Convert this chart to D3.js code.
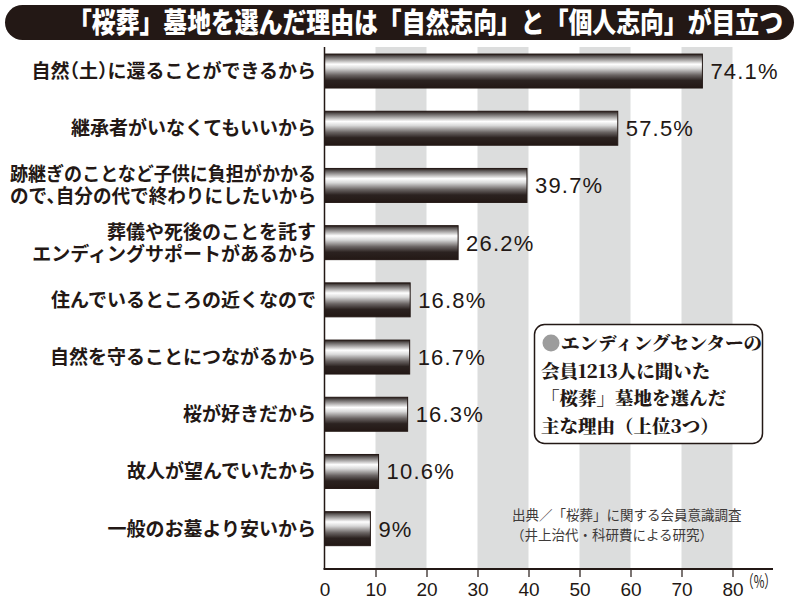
<!DOCTYPE html>
<html><head><meta charset="utf-8">
<script src="https://cdn.jsdelivr.net/npm/d3@7"></script>
<style>
html,body{margin:0;padding:0;background:#fff;}
svg{display:block;}
.halt{font-feature-settings:"halt";}
</style></head>
<body>
<svg id="c" width="800" height="607"></svg>
<script>
const titleText = "「桜葬」墓地を選んだ理由は「自然志向」と「個人志向」が目立つ";
const categories = [
  "自然（土）に還ることができるから",
  "継承者がいなくてもいいから",
  "跡継ぎのことなど子供に負担がかかる\nので、自分の代で終わりにしたいから",
  "葬儀や死後のことを託す\nエンディングサポートがあるから",
  "住んでいるところの近くなので",
  "自然を守ることにつながるから",
  "桜が好きだから",
  "故人が望んでいたから",
  "一般のお墓より安いから"
];
const values = [74.1, 57.5, 39.7, 26.2, 16.8, 16.7, 16.3, 10.6, 9];
const valueLabels = ["74.1%", "57.5%", "39.7%", "26.2%", "16.8%", "16.7%", "16.3%", "10.6%", "9%"];
const tickValues = [0, 10, 20, 30, 40, 50, 60, 70, 80];
const bandRanges = [[10, 20], [30, 40], [50, 60], [70, 80]];
const legendLines = ["エンディングセンターの", "会員1213人に聞いた", "「桜葬」墓地を選んだ", "主な理由（上位3つ）"];
const sourceLines = ["出典／「桜葬」に関する会員意識調査", "（井上治代・科研費による研究）"];

const INK = "#231815";
const svg = d3.select("#c");
const x = d3.scaleLinear().domain([0, 80]).range([324.5, 732.5]);
const y = d3.scaleBand().domain(categories).range([42.6, 557.1]).paddingInner(0.406).paddingOuter(0.2);
const axisY = 569;

// gradient
const defs = svg.append("defs");
const g = defs.append("linearGradient").attr("id", "barGrad").attr("x1", 0).attr("y1", 0).attr("x2", 0).attr("y2", 1);
[[0, "#231815"], [0.07, "#5d5857"], [0.3, "#ffffff"], [0.42, "#d9d9d9"], [0.62, "#6a6463"], [0.78, "#2b2220"], [1, "#231815"]]
  .forEach(([o, c]) => g.append("stop").attr("offset", o).attr("stop-color", c));

// title
svg.append("rect").attr("x", 5).attr("y", 5).attr("width", 789).attr("height", 35).attr("rx", 17.5).attr("fill", INK);
svg.append("text").attr("x", 68).attr("y", 32.5).attr("fill", "#fff")
  .attr("font-family", "'Noto Sans CJK JP', sans-serif").attr("font-weight", 900).attr("font-size", 28)
  .attr("textLength", 715).attr("lengthAdjust", "spacingAndGlyphs").text(titleText);

// grey bands
svg.append("g").selectAll("rect").data(bandRanges).join("rect")
  .attr("x", d => x(d[0])).attr("width", d => x(d[1]) - x(d[0]))
  .attr("y", 47).attr("height", axisY - 47).attr("fill", "#dcdddd");

// bars
svg.append("g").selectAll("rect").data(values).join("rect")
  .attr("x", x(0)).attr("y", (d, i) => y(categories[i]))
  .attr("width", d => x(d) - x(0)).attr("height", y.bandwidth())
  .attr("fill", "url(#barGrad)").attr("stroke", INK).attr("stroke-width", 1);

// value labels
svg.append("g").selectAll("text").data(values).join("text")
  .attr("x", d => x(d) + 8).attr("y", (d, i) => y(categories[i]) + y.bandwidth() / 2 + 8)
  .attr("font-family", "'Liberation Sans', Arial, sans-serif").attr("font-size", 22)
  .attr("letter-spacing", 1.2).attr("fill", INK)
  .text((d, i) => valueLabels[i]);

// category labels
const cl = svg.append("g").attr("class", "halt").attr("font-family", "'Noto Sans CJK JP', sans-serif")
  .attr("font-weight", 700).attr("font-size", 19).attr("fill", INK).attr("text-anchor", "end");
categories.forEach((c, i) => {
  const lines = c.split("\n");
  const cy = y(c) + y.bandwidth() / 2;
  const t = cl.append("text").attr("x", 316);
  lines.forEach((ln, j) => {
    const s = t.append("tspan").attr("x", 316)
      .attr("y", cy + 7 + (j - (lines.length - 1) / 2) * 22)
      .text(ln);
    const w = s.node().getComputedTextLength();
    if (w > 306) s.attr("textLength", 306).attr("lengthAdjust", "spacingAndGlyphs");
  });
});

// y axis line
svg.append("line").attr("x1", x(0)).attr("x2", x(0)).attr("y1", 47).attr("y2", axisY).attr("stroke", INK).attr("stroke-width", 1.5);

// x axis
const ax = svg.append("g").attr("transform", `translate(0,${axisY})`)
  .call(d3.axisBottom(x).tickValues(tickValues).tickSize(8).tickSizeOuter(0).tickPadding(6));
ax.select(".domain").remove();
ax.append("line").attr("x1", x(0) - 1).attr("x2", 773).attr("stroke", INK).attr("stroke-width", 2);
ax.selectAll(".tick line").attr("stroke", INK).attr("stroke-width", 1.2).filter(d => d === 0).remove();
ax.selectAll(".tick text").attr("fill", INK).attr("font-size", 19).attr("font-family", "'Liberation Sans', Arial, sans-serif");
svg.append("text").attr("x", 742).attr("y", 588).attr("fill", INK)
  .attr("font-family", "'Noto Sans CJK JP', sans-serif").attr("font-size", 17).text("（%）")
  .attr("textLength", 34).attr("lengthAdjust", "spacingAndGlyphs");

// legend box
svg.append("rect").attr("x", 534.5).attr("y", 324.5).attr("width", 228).attr("height", 119).attr("rx", 10)
  .attr("fill", "#fff").attr("stroke", INK).attr("stroke-width", 1.5);
svg.append("circle").attr("cx", 551).attr("cy", 343).attr("r", 8.5).attr("fill", "#9c9c9c");
const lg = svg.append("g").attr("font-family", "'Noto Serif CJK JP', 'Noto Sans CJK JP', serif")
  .attr("font-weight", 900).attr("font-size", 18.5).attr("fill", INK);
legendLines.forEach((ln, i) => {
  lg.append("text").attr("x", i === 0 ? 561 : 541).attr("y", 350 + i * 27.5).text(ln);
});

// source
const sg = svg.append("g").attr("font-family", "'Noto Sans CJK JP', sans-serif")
  .attr("font-size", 13.5).attr("fill", "#3e3a39");
sourceLines.forEach((ln, i) => {
  sg.append("text").attr("x", i === 0 ? 512 : 511).attr("y", 520 + i * 20).text(ln);
});
</script>
</body></html>
